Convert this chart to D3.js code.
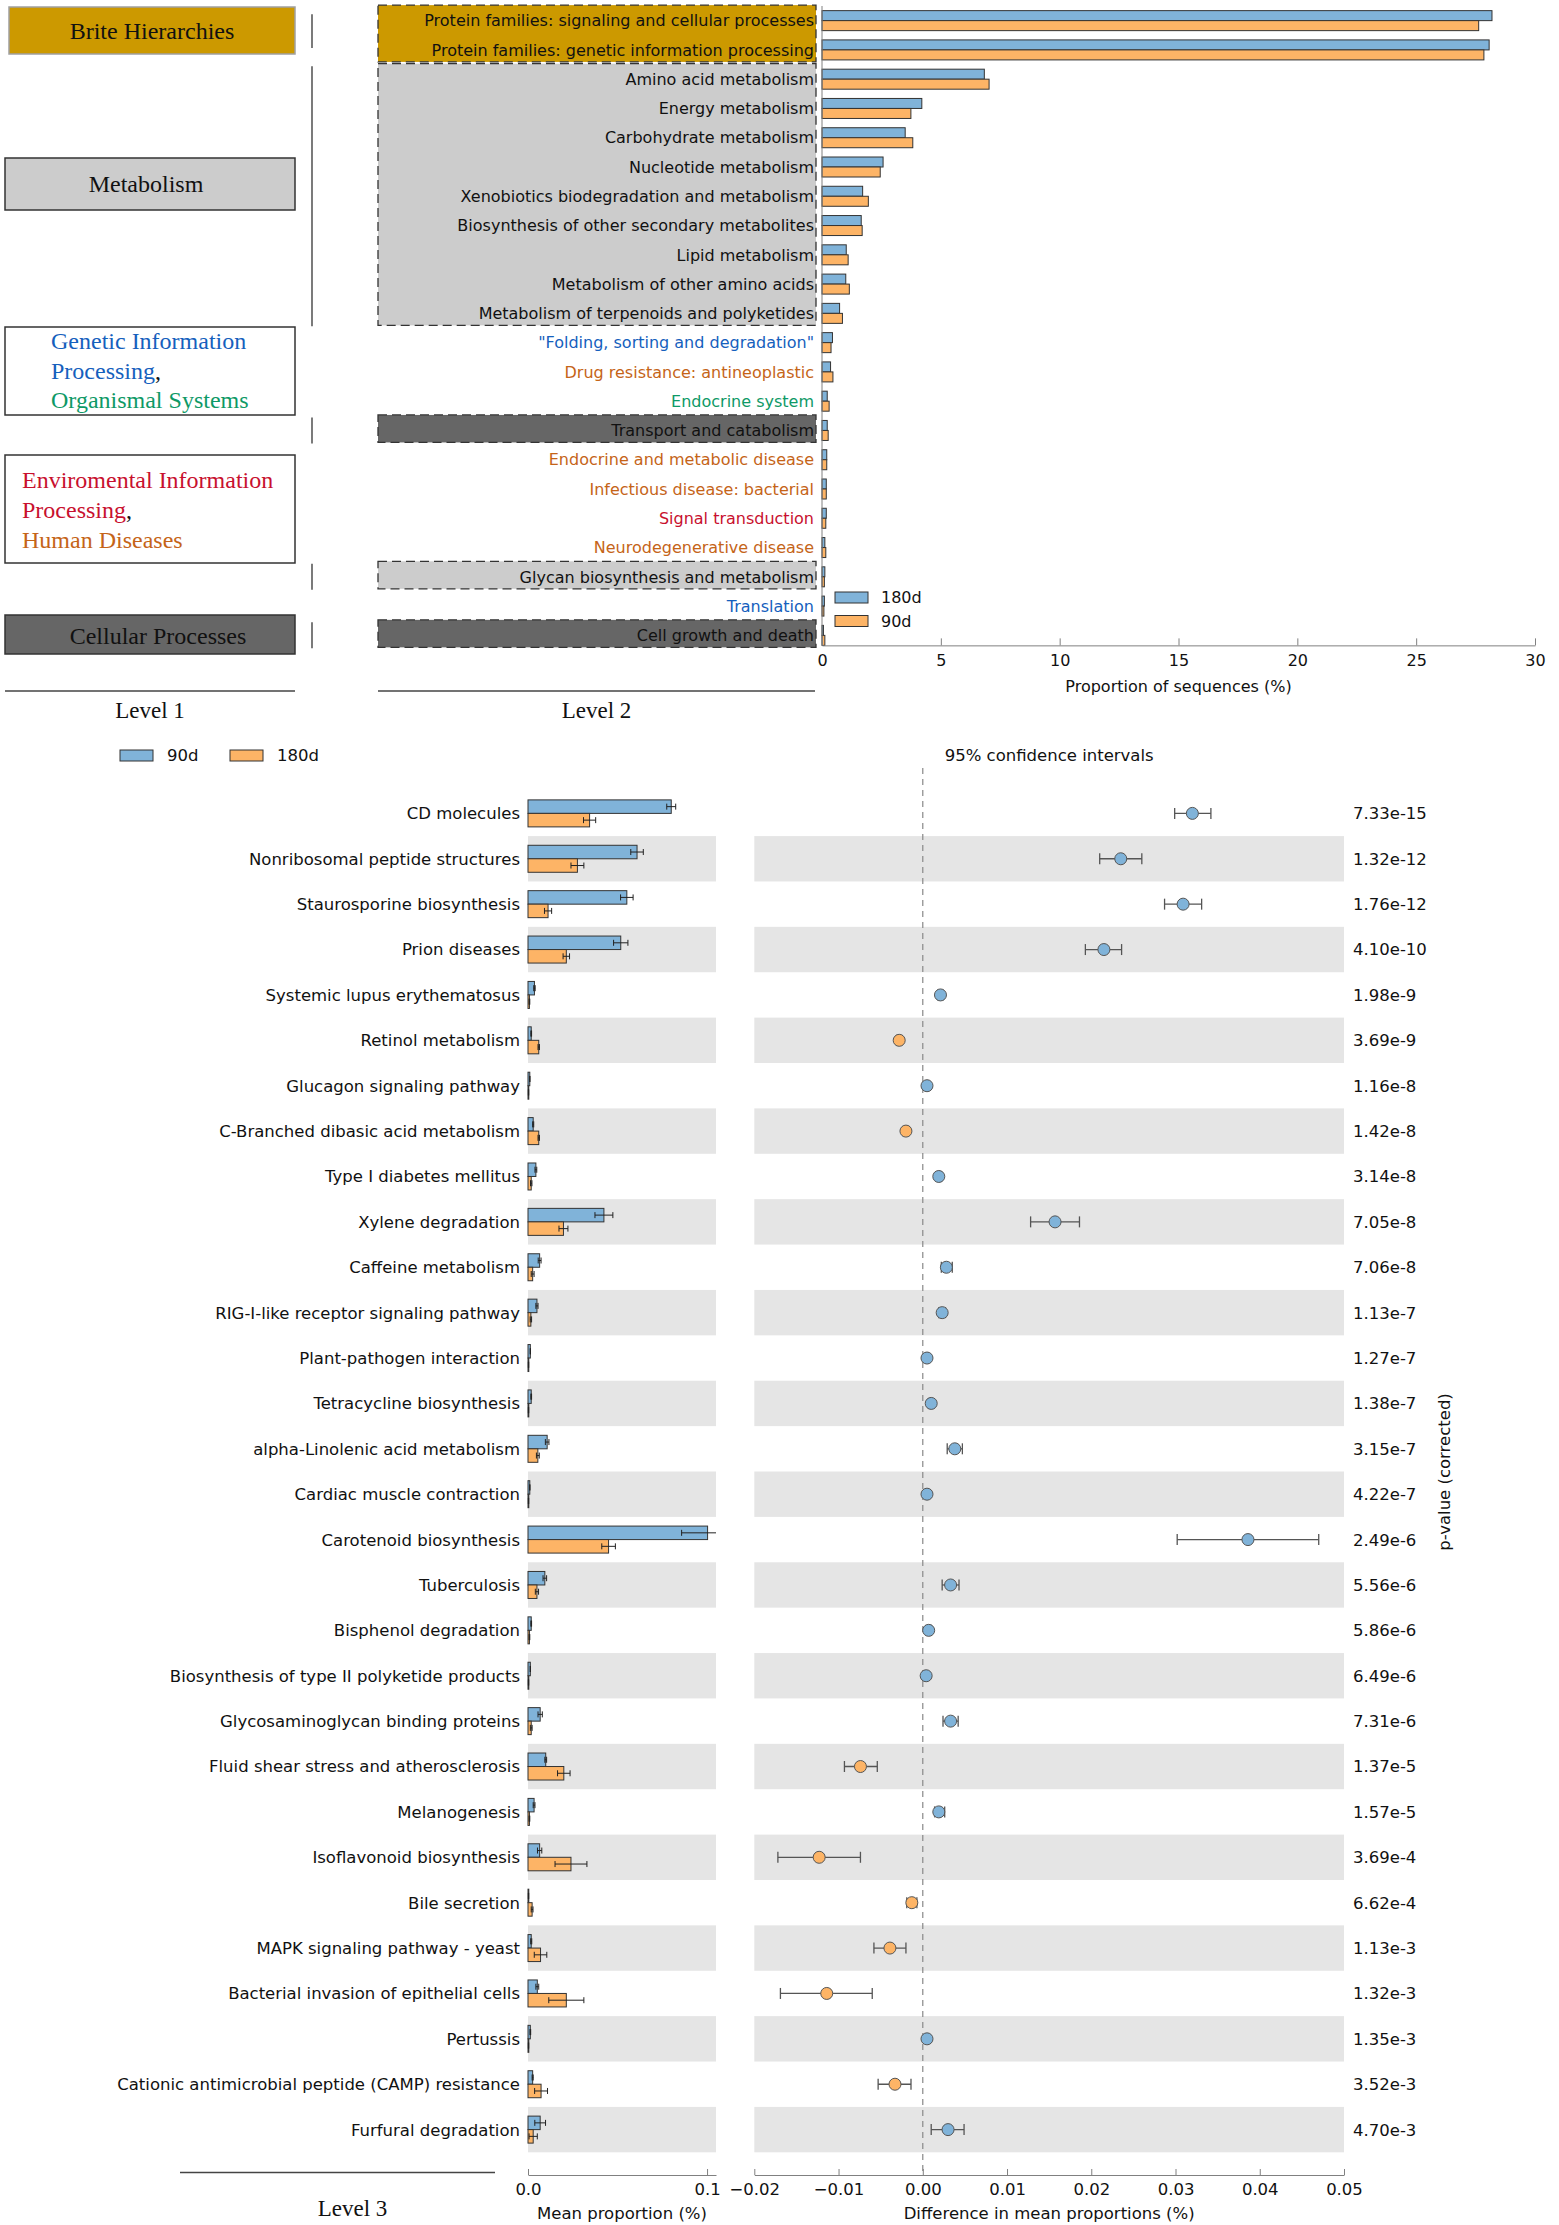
<!DOCTYPE html>
<html>
<head>
<meta charset="utf-8">
<script src="https://cdn.jsdelivr.net/npm/d3@7"></script>
<style>
body { margin: 0; background: #fff; }
svg { display: block; }
text { font-family: "DejaVu Sans", sans-serif; }
</style>
</head>
<body>
<svg id="chart" width="1559" height="2225"></svg>
<script>
// ---- top panel: KEGG level 2 ----
const level2Names = [
    'Protein families: signaling and cellular processes',
    'Protein families: genetic information processing',
    'Amino acid metabolism',
    'Energy metabolism',
    'Carbohydrate metabolism',
    'Nucleotide metabolism',
    'Xenobiotics biodegradation and metabolism',
    'Biosynthesis of other secondary metabolites',
    'Lipid metabolism',
    'Metabolism of other amino acids',
    'Metabolism of terpenoids and polyketides',
    '"Folding, sorting and degradation"',
    'Drug resistance: antineoplastic',
    'Endocrine system',
    'Transport and catabolism',
    'Endocrine and metabolic disease',
    'Infectious disease: bacterial',
    'Signal transduction',
    'Neurodegenerative disease',
    'Glycan biosynthesis and metabolism',
    'Translation',
    'Cell growth and death'
];
const level2Group = [
    'Brite', 'Brite',
    'Metabolism', 'Metabolism', 'Metabolism', 'Metabolism', 'Metabolism',
    'Metabolism', 'Metabolism', 'Metabolism', 'Metabolism',
    'Genetic', 'Human', 'Organismal', 'Cellular', 'Human', 'Human',
    'Environmental', 'Human', 'Metabolism', 'Genetic', 'Cellular'
];
const level2Values180d = [28.19, 28.07, 6.83, 4.20, 3.50, 2.57, 1.71, 1.65, 1.02, 1.00, 0.74,
    0.44, 0.36, 0.22, 0.22, 0.20, 0.18, 0.18, 0.12, 0.12, 0.10, 0.06];
const level2Values90d = [27.63, 27.85, 7.03, 3.74, 3.82, 2.45, 1.95, 1.69, 1.10, 1.15, 0.86,
    0.38, 0.46, 0.30, 0.26, 0.20, 0.18, 0.16, 0.16, 0.10, 0.08, 0.12];
const level2Ticks = [0, 5, 10, 15, 20, 25, 30];

// ---- bottom panel: KEGG level 3 ----
const level3Names = [
    'CD molecules', 'Nonribosomal peptide structures', 'Staurosporine biosynthesis',
    'Prion diseases', 'Systemic lupus erythematosus', 'Retinol metabolism',
    'Glucagon signaling pathway', 'C-Branched dibasic acid metabolism', 'Type I diabetes mellitus',
    'Xylene degradation', 'Caffeine metabolism', 'RIG-I-like receptor signaling pathway',
    'Plant-pathogen interaction', 'Tetracycline biosynthesis', 'alpha-Linolenic acid metabolism',
    'Cardiac muscle contraction', 'Carotenoid biosynthesis', 'Tuberculosis',
    'Bisphenol degradation', 'Biosynthesis of type II polyketide products',
    'Glycosaminoglycan binding proteins', 'Fluid shear stress and atherosclerosis',
    'Melanogenesis', 'Isoflavonoid biosynthesis', 'Bile secretion',
    'MAPK signaling pathway - yeast', 'Bacterial invasion of epithelial cells', 'Pertussis',
    'Cationic antimicrobial peptide (CAMP) resistance', 'Furfural degradation'
];
const mean90d = [0.0800, 0.0609, 0.0552, 0.0518, 0.0036, 0.0018, 0.0010, 0.0029, 0.0044, 0.0424,
    0.0065, 0.0050, 0.0013, 0.0018, 0.0107, 0.0010, 0.1003, 0.0094, 0.0018, 0.0013,
    0.0068, 0.0099, 0.0034, 0.0065, 0.0003, 0.0018, 0.0052, 0.0013, 0.0026, 0.0068];
const err90d = [0.0025, 0.0035, 0.0035, 0.0040, 0.0004, 0.0002, 0.0001, 0.0003, 0.0005, 0.0050,
    0.0008, 0.0006, 0.0001, 0.0002, 0.0010, 0.0001, 0.0145, 0.0010, 0.0002, 0.0001,
    0.0012, 0.0005, 0.0005, 0.0012, 0.0001, 0.0003, 0.0008, 0.0002, 0.0003, 0.0030];
const mean180d = [0.0344, 0.0276, 0.0112, 0.0214, 0.0008, 0.0060, 0.0003, 0.0060, 0.0018, 0.0198,
    0.0026, 0.0016, 0.0003, 0.0003, 0.0055, 0.0003, 0.0450, 0.0050, 0.0008, 0.0003,
    0.0018, 0.0200, 0.0008, 0.0240, 0.0023, 0.0070, 0.0214, 0.0003, 0.0073, 0.0029];
const err180d = [0.0034, 0.0036, 0.0020, 0.0018, 0.0002, 0.0004, 0.0001, 0.0004, 0.0004, 0.0025,
    0.0008, 0.0004, 0.0001, 0.0001, 0.0008, 0.0001, 0.0038, 0.0009, 0.0002, 0.0001,
    0.0005, 0.0035, 0.0002, 0.0089, 0.0005, 0.0035, 0.0098, 0.0001, 0.0036, 0.0023];
const diffMean = [0.0320, 0.0235, 0.0309, 0.0215, 0.0021, -0.0028, 0.0005, -0.0020, 0.0019, 0.0157,
    0.0028, 0.0023, 0.0005, 0.0010, 0.0038, 0.0005, 0.0386, 0.0033, 0.0007, 0.0004,
    0.0033, -0.0074, 0.0019, -0.0123, -0.0013, -0.0039, -0.0114, 0.0005, -0.0033, 0.0030];
const ciLow = [0.0299, 0.0210, 0.0287, 0.0193, 0.0018, -0.0031, 0.0003, -0.0023, 0.0016, 0.0128,
    0.0022, 0.0019, 0.0003, 0.0007, 0.0029, 0.0003, 0.0302, 0.0023, 0.0004, 0.0002,
    0.0024, -0.0093, 0.0014, -0.0172, -0.0019, -0.0058, -0.0169, 0.0003, -0.0053, 0.0010];
const ciHigh = [0.0342, 0.0260, 0.0331, 0.0236, 0.0024, -0.0025, 0.0007, -0.0017, 0.0022, 0.0186,
    0.0035, 0.0027, 0.0007, 0.0013, 0.0047, 0.0007, 0.0470, 0.0043, 0.0010, 0.0006,
    0.0042, -0.0054, 0.0026, -0.0074, -0.0007, -0.0020, -0.0060, 0.0007, -0.0014, 0.0049];
const pValues = ['7.33e-15', '1.32e-12', '1.76e-12', '4.10e-10', '1.98e-9', '3.69e-9', '1.16e-8',
    '1.42e-8', '3.14e-8', '7.05e-8', '7.06e-8', '1.13e-7', '1.27e-7', '1.38e-7', '3.15e-7',
    '4.22e-7', '2.49e-6', '5.56e-6', '5.86e-6', '6.49e-6', '7.31e-6', '1.37e-5', '1.57e-5',
    '3.69e-4', '6.62e-4', '1.13e-3', '1.32e-3', '1.35e-3', '3.52e-3', '4.70e-3'];
const meanTicks = [0, 0.1];
const diffTicks = [-0.02, -0.01, 0, 0.01, 0.02, 0.03, 0.04, 0.05];

const BLUE = '#80b3d9';
const ORANGE = '#fdb466';
const TXT_BLUE = '#1560bd';
const TXT_GREEN = '#0e9966';
const TXT_RED = '#c8102e';
const TXT_ORANGE = '#c56418';
const AXIS_GRAY = '#808080';
const SERIF = '"Liberation Serif", "Times New Roman", serif';

const groupText = { Genetic: TXT_BLUE, Human: TXT_ORANGE, Organismal: TXT_GREEN, Environmental: TXT_RED };
const groupFill = { Brite: '#cc9900', Metabolism: '#cccccc', Cellular: '#666666' };

const svg = d3.select('#chart');

function styleAxis(g, size) {
    g.select('.domain').attr('stroke', AXIS_GRAY);
    g.selectAll('.tick line').attr('stroke', AXIS_GRAY);
    g.selectAll('.tick text').attr('fill', '#111').style('font-size', size + 'px')
        .style('font-family', '"DejaVu Sans", sans-serif');
}

// ================= TOP =================
const yTop = d3.scaleBand().domain(level2Names).range([6, 650]);
const xTop = d3.scaleLinear().domain([0, 30]).range([822, 1535]);
const cTop = name => yTop(name) + yTop.bandwidth() / 2;
const topAxisY = cTop(level2Names[level2Names.length - 1]) + 10;

// level 1 boxes (left column)
const level1Boxes = [
    { x0: 9, y0: 7, y1: 54, fill: '#cc9900', stroke: '#a0a0a0', anchor: 'middle', tx: 152, ty: 39,
      lines: [[['Brite Hierarchies', '#111']]] },
    { x0: 5, y0: 158, y1: 210, fill: '#cccccc', stroke: '#333', anchor: 'middle', tx: 146, ty: 192,
      lines: [[['Metabolism', '#111']]] },
    { x0: 5, y0: 327, y1: 415, fill: '#fff', stroke: '#333', anchor: 'start', tx: 51, ty: 349, lh: 29.5,
      lines: [[['Genetic Information', TXT_BLUE]], [['Processing', TXT_BLUE], [',', '#111']],
              [['Organismal Systems', TXT_GREEN]]] },
    { x0: 5, y0: 455, y1: 563, fill: '#fff', stroke: '#333', anchor: 'start', tx: 22, ty: 488, lh: 30,
      lines: [[['Enviromental Information', TXT_RED]], [['Processing', TXT_RED], [',', '#111']],
              [['Human Diseases', TXT_ORANGE]]] },
    { x0: 5, y0: 615, y1: 654, fill: '#666666', stroke: '#333', anchor: 'middle', tx: 158, ty: 644,
      lines: [[['Cellular Processes', '#111']]] }
];
level1Boxes.forEach(function(b) {
    svg.append('rect').attr('x', b.x0).attr('y', b.y0).attr('width', 295 - b.x0).attr('height', b.y1 - b.y0)
        .attr('fill', b.fill).attr('stroke', b.stroke).attr('stroke-width', 1.5);
    b.lines.forEach(function(parts, i) {
        const t = svg.append('text').attr('x', b.tx).attr('y', b.ty + i * (b.lh || 0))
            .attr('text-anchor', b.anchor).style('font-family', SERIF).style('font-size', '24px');
        parts.forEach(p => t.append('tspan').attr('fill', p[1]).text(p[0]));
    });
});

// runs of boxed groups in level 2
const runs = [];
level2Names.forEach(function(name, i) {
    const g = level2Group[i];
    if (!groupFill[g]) return;
    const last = runs[runs.length - 1];
    if (last && last.group === g && last.end === i - 1) last.end = i;
    else runs.push({ group: g, start: i, end: i });
});
runs.forEach(function(r, k) {
    const top = cTop(level2Names[r.start]) - 15.5;
    const bottom = cTop(level2Names[r.end]) + 12;
    svg.append('rect').attr('x', 378).attr('y', top).attr('width', 438).attr('height', bottom - top)
        .attr('fill', groupFill[r.group]).attr('stroke', '#333').attr('stroke-width', 1.3)
        .attr('stroke-dasharray', '9,5');
    // connector to level 1 (the first one is shorter in the original)
    const up = k === 0 ? 6.5 : 13;
    const down = k === 0 ? -2 : 13;
    svg.append('line').attr('x1', 312).attr('x2', 312)
        .attr('y1', cTop(level2Names[r.start]) - up).attr('y2', cTop(level2Names[r.end]) + down)
        .attr('stroke', '#333').attr('stroke-width', 1.3);
});

// level 2 labels
svg.append('g').selectAll('text').data(level2Names).join('text')
    .attr('x', 814).attr('y', d => cTop(d))
    .attr('dy', '0.36em')
    .attr('text-anchor', 'end')
    .style('font-size', '16px')
    .attr('fill', (d, i) => groupText[level2Group[i]] || '#111')
    .text(d => d);

// bars
svg.append('g').selectAll('rect').data(level2Names).join('rect')
    .attr('x', xTop(0)).attr('y', d => cTop(d) - 10)
    .attr('width', (d, i) => xTop(level2Values180d[i]) - xTop(0)).attr('height', 10)
    .attr('fill', BLUE).attr('stroke', '#333').attr('stroke-width', 1);
svg.append('g').selectAll('rect').data(level2Names).join('rect')
    .attr('x', xTop(0)).attr('y', d => cTop(d))
    .attr('width', (d, i) => xTop(level2Values90d[i]) - xTop(0)).attr('height', 10)
    .attr('fill', ORANGE).attr('stroke', '#333').attr('stroke-width', 1);

// left spine + axis
svg.append('line').attr('x1', xTop(0)).attr('x2', xTop(0)).attr('y1', 6).attr('y2', topAxisY)
    .attr('stroke', AXIS_GRAY);
const topAxis = svg.append('g').attr('transform', 'translate(0,' + topAxisY + ')')
    .call(d3.axisBottom(xTop).tickValues(level2Ticks).tickFormat(d3.format('d'))
        .tickSize(-7).tickSizeOuter(0).tickPadding(9));
styleAxis(topAxis, 16);
svg.append('text').attr('x', (xTop(0) + xTop(30)) / 2).attr('y', 692).attr('text-anchor', 'middle')
    .style('font-size', '16px').attr('fill', '#111').text('Proportion of sequences (%)');

// top legend
[['180d', BLUE], ['90d', ORANGE]].forEach(function(l, i) {
    svg.append('rect').attr('x', 835).attr('y', 592 + i * 23.5).attr('width', 33).attr('height', 11)
        .attr('fill', l[1]).attr('stroke', '#333');
    svg.append('text').attr('x', 881).attr('y', 597.5 + i * 23.5).attr('dy', '0.36em')
        .style('font-size', '16px').attr('fill', '#111').text(l[0]);
});

// level headers
[[5, 295, 'Level 1', 691, 27], [378, 815, 'Level 2', 691, 27], [180, 495, 'Level 3', 2172.5, 43]].forEach(function(l, i) {
    svg.append('line').attr('x1', l[0]).attr('x2', l[1]).attr('y1', l[3]).attr('y2', l[3])
        .attr('stroke', '#444').attr('stroke-width', 1.5);
    svg.append('text').attr('x', (l[0] + l[1]) / 2 + (i === 2 ? 15 : 0)).attr('y', l[3] + l[4])
        .attr('text-anchor', 'middle').style('font-family', SERIF).style('font-size', '23px')
        .attr('fill', '#111').text(l[2]);
});

// ================= BOTTOM =================
const yBot = d3.scaleBand().domain(level3Names).range([768, 2175]).paddingInner(0).paddingOuter(0.5);
const cBot = name => yBot(name) + yBot.bandwidth() / 2;
const xMean = d3.scaleLinear().domain([0, 0.105]).range([528, 716]);
const xDiff = d3.scaleLinear().domain([-0.02, 0.05]).range([754.3, 1344]);
const botAxisY = 2175;

// legend
[['90d', BLUE, 120, 167], ['180d', ORANGE, 230, 277]].forEach(function(l) {
    svg.append('rect').attr('x', l[2]).attr('y', 750).attr('width', 33).attr('height', 11)
        .attr('fill', l[1]).attr('stroke', '#333');
    svg.append('text').attr('x', l[3]).attr('y', 755.5).attr('dy', '0.36em')
        .style('font-size', '16.5px').attr('fill', '#111').text(l[0]);
});
svg.append('text').attr('x', (xDiff.range()[0] + xDiff.range()[1]) / 2).attr('y', 755.5).attr('dy', '0.36em')
    .attr('text-anchor', 'middle').style('font-size', '16.5px').attr('fill', '#111')
    .text('95% confidence intervals');

// alternating bands
const oddRows = level3Names.filter((d, i) => i % 2 === 1);
[xMean, xDiff].forEach(function(sc) {
    svg.append('g').selectAll('rect').data(oddRows).join('rect')
        .attr('x', sc.range()[0]).attr('y', d => yBot(d))
        .attr('width', sc.range()[1] - sc.range()[0]).attr('height', yBot.bandwidth())
        .attr('fill', '#e5e5e5');
});

// labels
svg.append('g').selectAll('text').data(level3Names).join('text')
    .attr('x', 520).attr('y', d => cBot(d)).attr('dy', '0.36em').attr('text-anchor', 'end')
    .style('font-size', '16.5px').attr('fill', '#111').text(d => d);

// mean bars
svg.append('clipPath').attr('id', 'meanClip').append('rect')
    .attr('x', 520).attr('y', 760).attr('width', xMean.range()[1] - 520).attr('height', 1420);
const meanG = svg.append('g').attr('clip-path', 'url(#meanClip)');
const barH = 13.5;
const meanSeries = [
    { vals: mean90d, errs: err90d, fill: BLUE, off: -barH },
    { vals: mean180d, errs: err180d, fill: ORANGE, off: 0 }
];
meanSeries.forEach(function(s) {
    meanG.append('g').selectAll('rect').data(level3Names).join('rect')
        .attr('x', xMean(0)).attr('y', d => cBot(d) + s.off)
        .attr('width', (d, i) => Math.max(0.8, xMean(s.vals[i]) - xMean(0))).attr('height', barH)
        .attr('fill', s.fill).attr('stroke', '#333').attr('stroke-width', 1);
    const eg = meanG.append('g').attr('stroke', '#222').attr('stroke-width', 1);
    level3Names.forEach(function(d, i) {
        const ey = cBot(d) + s.off + barH / 2;
        const a = xMean(s.vals[i] - s.errs[i]), b = xMean(s.vals[i] + s.errs[i]);
        eg.append('line').attr('x1', a).attr('x2', b).attr('y1', ey).attr('y2', ey);
        eg.append('line').attr('x1', a).attr('x2', a).attr('y1', ey - 3).attr('y2', ey + 3);
        eg.append('line').attr('x1', b).attr('x2', b).attr('y1', ey - 3).attr('y2', ey + 3);
    });
});

// zero line
svg.append('line').attr('x1', xDiff(0)).attr('x2', xDiff(0)).attr('y1', 768).attr('y2', botAxisY)
    .attr('stroke', '#888').attr('stroke-width', 1.2).attr('stroke-dasharray', '6,5');

// confidence intervals
const ciG = svg.append('g').attr('stroke', '#555').attr('stroke-width', 1.3);
level3Names.forEach(function(d, i) {
    const cy = cBot(d);
    const a = xDiff(ciLow[i]), b = xDiff(ciHigh[i]);
    ciG.append('line').attr('x1', a).attr('x2', b).attr('y1', cy).attr('y2', cy);
    ciG.append('line').attr('x1', a).attr('x2', a).attr('y1', cy - 5.5).attr('y2', cy + 5.5);
    ciG.append('line').attr('x1', b).attr('x2', b).attr('y1', cy - 5.5).attr('y2', cy + 5.5);
});
svg.append('g').selectAll('circle').data(level3Names).join('circle')
    .attr('cx', (d, i) => xDiff(diffMean[i])).attr('cy', d => cBot(d)).attr('r', 6)
    .attr('fill', (d, i) => diffMean[i] >= 0 ? BLUE : ORANGE)
    .attr('stroke', '#555').attr('stroke-width', 1);

// p-values
svg.append('g').selectAll('text').data(level3Names).join('text')
    .attr('x', 1353).attr('y', d => cBot(d)).attr('dy', '0.36em')
    .style('font-size', '16.5px').attr('fill', '#111').text((d, i) => pValues[i]);
svg.append('text').attr('transform', 'translate(1444,1472) rotate(-90)').attr('dy', '0.36em')
    .attr('text-anchor', 'middle').style('font-size', '16.5px').attr('fill', '#111')
    .text('p-value (corrected)');

// axes
const meanAxis = svg.append('g').attr('transform', 'translate(0,' + botAxisY + ')')
    .call(d3.axisBottom(xMean).tickValues(meanTicks).tickFormat(d3.format('.1f'))
        .tickSize(-6).tickSizeOuter(0).tickPadding(8));
styleAxis(meanAxis, 16.5);
const diffAxis = svg.append('g').attr('transform', 'translate(0,' + botAxisY + ')')
    .call(d3.axisBottom(xDiff).tickValues(diffTicks).tickFormat(d3.format('.2f'))
        .tickSize(-6).tickSizeOuter(0).tickPadding(8));
styleAxis(diffAxis, 16.5);
svg.append('text').attr('x', (xMean.range()[0] + xMean.range()[1]) / 2).attr('y', 2219)
    .attr('text-anchor', 'middle').style('font-size', '16.5px').attr('fill', '#111')
    .text('Mean proportion (%)');
svg.append('text').attr('x', (xDiff.range()[0] + xDiff.range()[1]) / 2).attr('y', 2219)
    .attr('text-anchor', 'middle').style('font-size', '16.5px').attr('fill', '#111')
    .text('Difference in mean proportions (%)');
</script>
</body>
</html>
